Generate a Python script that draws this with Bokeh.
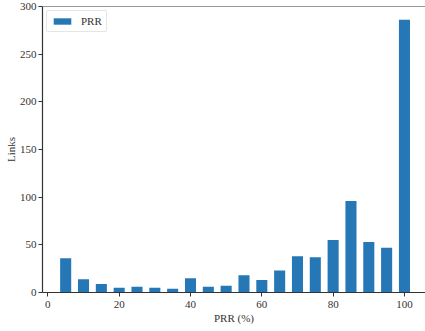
from bokeh.plotting import figure
from bokeh.models import Span, Range1d, FixedTicker, ColumnDataSource
from bokeh.embed import file_html
from bokeh.resources import INLINE

# PRR histogram bins (%) and number of links in each bin
prr_bins = [5, 10, 15, 20, 25, 30, 35, 40, 45, 50, 55, 60, 65, 70, 75, 80, 85, 90, 95, 100]
link_counts = [36, 14, 9, 5, 6, 5, 4, 15, 6, 7, 18, 13, 23, 38, 37, 55, 96, 53, 47, 286]

x_ticks = [0, 20, 40, 60, 80, 100]
y_ticks = [0, 50, 100, 150, 200, 250, 300]

FONT = "Liberation Serif"
SPINE = "#333333"

source = ColumnDataSource(data=dict(prr=prr_bins, links=link_counts))

p = figure(
    width=425, height=331,
    x_range=Range1d(-1.5, 105.9), y_range=Range1d(0, 300),
    output_backend="svg", toolbar_location=None,
    min_border_left=42, min_border_right=0, min_border_top=6, min_border_bottom=39,
)

p.vbar(x="prr", top="links", bottom=0, width=3.1, source=source,
       fill_color="#2677b5", line_color=None, legend_label="PRR")

p.outline_line_color = None
p.grid.grid_line_color = None
p.background_fill_color = "white"
p.border_fill_color = "white"

# top spine
p.add_layout(Span(location=300, dimension="width", line_color=SPINE, line_width=1.2))

p.xaxis.ticker = FixedTicker(ticks=x_ticks)
p.yaxis.ticker = FixedTicker(ticks=y_ticks)
for ax in (p.xaxis, p.yaxis):
    ax.axis_line_color = SPINE
    ax.axis_line_width = 1.2
    ax.major_tick_line_color = SPINE
    ax.major_tick_line_width = 1
    ax.major_tick_in = 0
    ax.major_tick_out = 4
    ax.minor_tick_line_color = None
    ax.major_label_text_font = FONT
    ax.major_label_text_font_size = "11px"
    ax.major_label_text_color = "#333333"
    ax.axis_label_text_font = FONT
    ax.axis_label_text_font_size = "11px"
    ax.axis_label_text_font_style = "normal"
    ax.axis_label_text_color = "#333333"

p.xaxis.axis_label = "PRR (%)"
p.yaxis.axis_label = "Links"
p.xaxis.major_label_standoff = 4
p.yaxis.major_label_standoff = 2
p.xaxis.axis_label_standoff = 1
p.yaxis.axis_label_standoff = 0

leg = p.legend[0]
leg.location = "top_left"
leg.margin = 4
leg.padding = 4
leg.glyph_width = 22
leg.glyph_height = 8
leg.label_standoff = 8
leg.label_text_font = FONT
leg.label_text_font_size = "11px"
leg.label_text_color = "#333333"
leg.border_line_color = "#cccccc"
leg.border_line_width = 1
leg.border_radius = 2
leg.background_fill_alpha = 0.8

open("out.html", "w").write(file_html(p, INLINE))
